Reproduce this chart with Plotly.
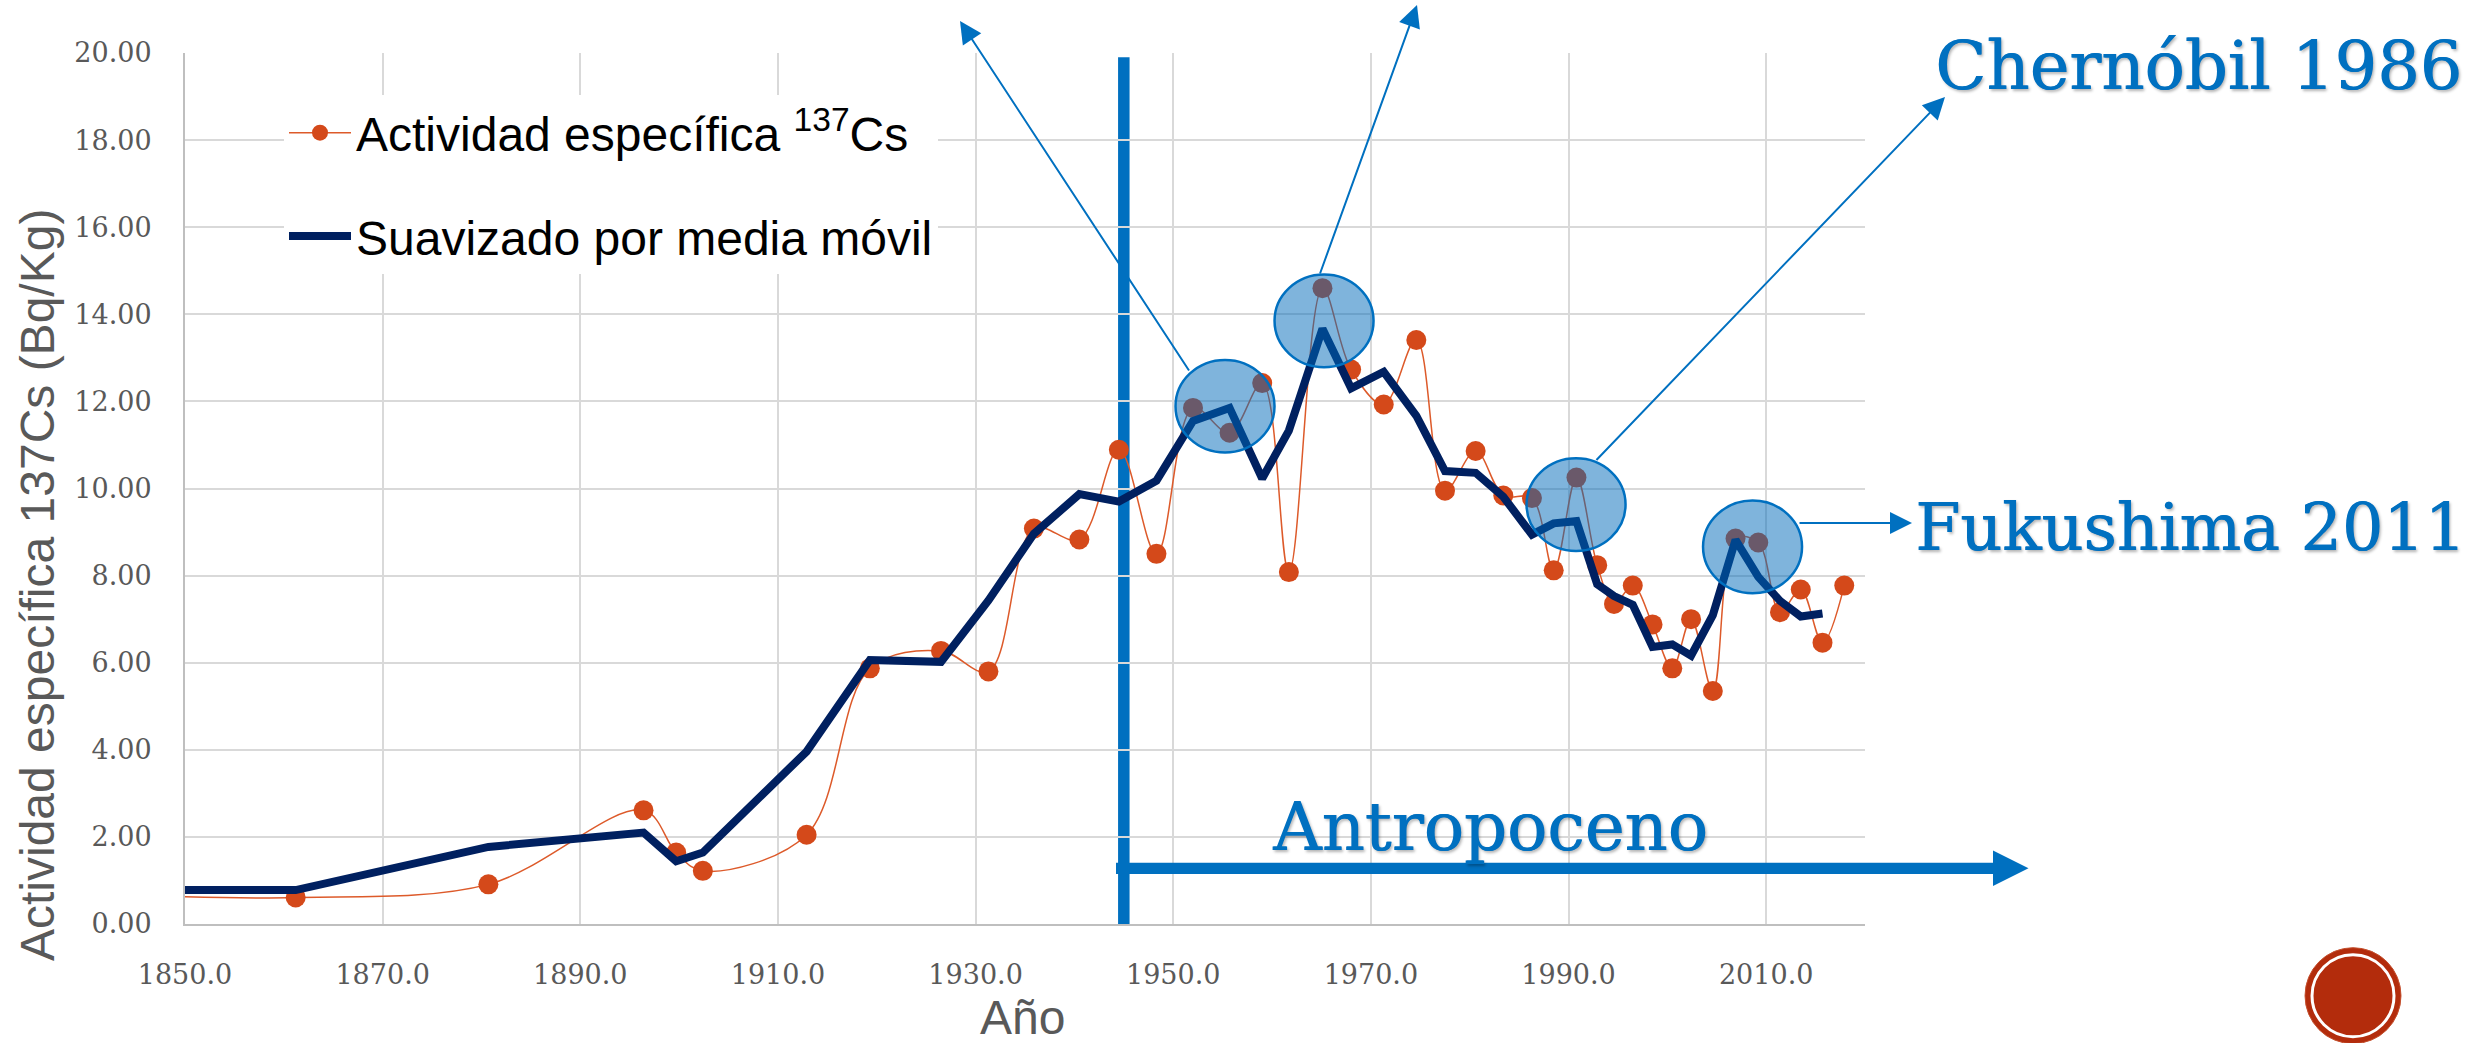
import plotly.graph_objects as go

# ---------------- data ----------------
years = [1848, 1861.2, 1880.7, 1896.4, 1899.7, 1902.4, 1912.9, 1919.3,
         1926.5, 1931.3, 1935.9, 1940.5, 1944.5, 1948.3,
         1952.0, 1955.7, 1959.0, 1961.7, 1965.1, 1968.0, 1971.3, 1974.6, 1977.5, 1980.6,
         1983.4, 1986.3, 1988.5, 1990.8, 1992.9, 1994.6, 1996.5, 1998.5, 2000.5, 2002.4,
         2004.6, 2006.9, 2009.2, 2011.4, 2013.5, 2015.7, 2017.9]
activity = [0.64, 0.61, 0.91, 2.61, 1.64, 1.22, 2.05, 5.87,
            6.27, 5.80, 9.08, 8.83, 10.89, 8.50,
            11.85, 11.28, 12.42, 8.08, 14.60, 12.73, 11.93, 13.41, 9.95, 10.86,
            9.84, 9.78, 8.12, 10.25, 8.24, 7.35, 7.77, 6.88, 5.87, 7.00,
            5.35, 8.85, 8.76, 7.16, 7.68, 6.46, 7.77]
ma_years = years[:-1]
moving_avg = [0.78, 0.78, 1.77, 2.10, 1.44, 1.64, 3.96, 6.06,
              6.02, 7.43, 8.96, 9.87, 9.70, 10.18,
              11.55, 11.85, 10.23, 11.33, 13.67, 12.30, 12.68, 11.67, 10.40, 10.36,
              9.81, 8.94, 9.20, 9.25, 7.80, 7.53, 7.33, 6.36, 6.42, 6.16,
              7.09, 8.82, 7.97, 7.42, 7.06, 7.13]

name_activity = "Actividad específica <sup>137</sup>Cs"
name_ma = "Suavizado por media móvil"
x_title = "Año"
y_title = "Actividad específica 137Cs (Bq/Kg)"
anthropocene_year = 1945
events = ["Chernóbil 1986", "Fukushima 2011"]
period_label = "Antropoceno"
# highlighted groups (centre year, centre value)
highlights = [(1955.24, 11.89), (1965.26, 13.85), (1990.76, 9.63), (2008.62, 8.66)]

# ---------------- layout geometry ----------------
W, H = 2468, 1043
L, R, T, B = 185, 603, 53, 119
PW, PH = W - L - R, H - T - B


def PX(px):
    return (px - L) / PW


def PY(py):
    return (T + PH - py) / PH


BLUE = "#0070C0"
GREY = "#595959"
SERIF = "DejaVu Serif"
SANS = "Liberation Sans, Arial, sans-serif"

fig = go.Figure()
fig.add_trace(go.Scatter(
    x=years, y=activity, name=name_activity, mode="lines+markers",
    line=dict(color="#DD5A2A", width=1.5, shape="spline", smoothing=1.0),
    marker=dict(color="#D4491A", size=20),
    legendgroup="a", cliponaxis=True))
fig.add_trace(go.Scatter(
    x=ma_years, y=moving_avg, name=name_ma, mode="lines",
    line=dict(color="#002060", width=8),
    legendgroup="b"))

shapes = []
# vertical anthropocene marker
shapes.append(dict(type="line", xref="x", yref="y", x0=anthropocene_year, x1=anthropocene_year,
                   y0=0, y1=19.9, line=dict(color=BLUE, width=11.5), layer="below"))
# horizontal thick arrow
shapes.append(dict(type="line", xref="paper", yref="paper", x0=PX(1116), x1=PX(1994),
                   y0=PY(868.3), y1=PY(868.3), line=dict(color=BLUE, width=11.3)))
shapes.append(dict(type="path", xref="paper", yref="paper",
                   path=f"M {PX(1993)},{PY(850.6)} L {PX(2028.5)},{PY(868.3)} L {PX(1993)},{PY(886)} Z",
                   fillcolor=BLUE, line=dict(color=BLUE, width=0)))
# highlight ellipses
for (cx, cy) in highlights:
    shapes.append(dict(type="circle", xref="x", yref="y",
                       xsizemode="pixel", ysizemode="pixel",
                       xanchor=cx, yanchor=cy, x0=-49.5, x1=49.5, y0=-46.3, y1=46.3,
                       fillcolor="rgba(0,105,185,0.5)", line=dict(color=BLUE, width=2.5),
                       layer="above"))
# logo
shapes.append(dict(type="circle", xref="paper", yref="paper", xsizemode="pixel", ysizemode="pixel",
                   xanchor=PX(2353), yanchor=PY(995.7), x0=-48, x1=48, y0=-48, y1=48,
                   fillcolor="#B32C0C", line=dict(color="#C4502E", width=1)))
shapes.append(dict(type="circle", xref="paper", yref="paper", xsizemode="pixel", ysizemode="pixel",
                   xanchor=PX(2353), yanchor=PY(995.7), x0=-41, x1=41, y0=-41, y1=41,
                   fillcolor="rgba(0,0,0,0)", line=dict(color="white", width=3)))

annotations = []
# thin arrows (tip, tail) in pixels
arrows = [((960, 21), (1190, 372)),
          ((1417, 5), (1319.5, 275)),
          ((1945, 97), (1595, 461.5)),
          ((1912, 523), (1798, 523))]
for (tip, tail) in arrows:
    annotations.append(dict(xref="paper", yref="paper", x=PX(tip[0]), y=PY(tip[1]),
                            ax=tail[0] - tip[0], ay=tail[1] - tip[1], text="",
                            showarrow=True, arrowhead=2, arrowsize=2.2, arrowwidth=2,
                            arrowcolor=BLUE, standoff=0, startstandoff=0))
shadow = "0.8px 0px 0px #0070C0, 2px 2px 3px rgba(0,0,0,0.3)"
annotations.append(dict(xref="paper", yref="paper", x=PX(1933), y=PY(66), text=events[0],
                        showarrow=False, xanchor="left", yanchor="middle",
                        font=dict(family=SERIF, size=67, color=BLUE, shadow=shadow)))
annotations.append(dict(xref="paper", yref="paper", x=PX(1913), y=PY(527), text=events[1],
                        showarrow=False, xanchor="left", yanchor="middle",
                        font=dict(family=SERIF, size=65, color=BLUE, shadow=shadow)))
annotations.append(dict(xref="paper", yref="paper", x=PX(1270), y=PY(827), text=period_label,
                        showarrow=False, xanchor="left", yanchor="middle",
                        font=dict(family=SERIF, size=67, color=BLUE, shadow=shadow)))
# axis titles
annotations.append(dict(xref="paper", yref="paper", x=PX(37), y=PY(585), text=y_title,
                        textangle=-90, showarrow=False, xanchor="center", yanchor="middle",
                        font=dict(family=SANS, size=48, color=GREY)))
annotations.append(dict(xref="paper", yref="paper", x=PX(1022), y=PY(1017), text=x_title,
                        showarrow=False, xanchor="center", yanchor="middle",
                        font=dict(family=SANS, size=48, color=GREY)))

fig.update_layout(
    width=W, height=H, autosize=False,
    margin=dict(l=L, r=R, t=T, b=B, pad=0),
    paper_bgcolor="white", plot_bgcolor="white",
    showlegend=True,
    legend=dict(x=PX(284), y=PY(95), xanchor="left", yanchor="top", xref="paper", yref="paper",
                bgcolor="white", font=dict(family=SANS, size=48, color="black"),
                traceorder="grouped", tracegroupgap=38, itemwidth=62, itemsizing="trace"),
    shapes=shapes, annotations=annotations,
    xaxis=dict(range=[1850, 2020], tick0=1850, dtick=20, tickformat=".1f",
               showgrid=True, gridcolor="#D9D9D9", gridwidth=2,
               showline=True, linecolor="#BFBFBF", linewidth=2, zeroline=False,
               ticks="", ticklabelstandoff=26,
               tickfont=dict(family=SERIF, size=27, color=GREY)),
    yaxis=dict(range=[0, 20], tick0=0, dtick=2, tickformat=".2f",
               showgrid=True, gridcolor="#D9D9D9", gridwidth=2,
               showline=True, linecolor="#BFBFBF", linewidth=2, zeroline=False,
               ticks="", ticklabelstandoff=26,
               tickfont=dict(family=SERIF, size=27, color=GREY)),
)

fig.write_html("out.html")
